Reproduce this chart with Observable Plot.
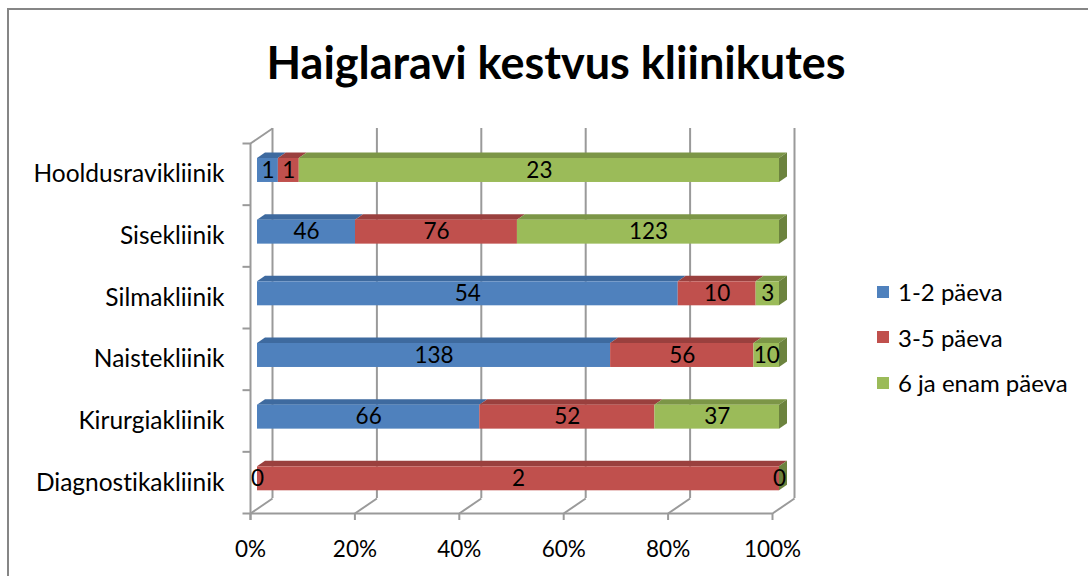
<!DOCTYPE html>
<html>
<head>
<meta charset="utf-8">
<script src="https://cdn.jsdelivr.net/npm/d3@7"></script>
<script src="https://cdn.jsdelivr.net/npm/@observablehq/plot@0.6"></script>
<style>
  html, body { margin: 0; padding: 0; background: #fff; overflow: hidden; }
  #wrap { position: relative; width: 1088px; height: 576px; overflow: hidden; font-family: Lato, "Open Sans", sans-serif; font-variant-ligatures: none; }
  #border { position: absolute; left: 7px; top: 8px; width: 2000px; height: 2000px; border: 2px solid #868686; box-sizing: border-box; }
  #title { position: absolute; left: 156px; width: 800px; top: 36px; text-align: center; font-weight: bold; font-size: 45px; line-height: 52px; color: #000; white-space: nowrap; }
  #chart { position: absolute; left: 0; top: 0; }
  #chart svg text { font-variant-ligatures: none; }
  #legend { position: absolute; left: 877px; top: 269px; font-size: 24px; color: #000; }
  .item { display: flex; align-items: center; height: 45.5px; white-space: nowrap; }
  .sw { width: 12px; height: 12px; margin-right: 9px; }
</style>
</head>
<body>
<div id="wrap">
  <div id="border"></div>
  <div id="chart"></div>
  <div id="title">Haiglaravi kestvus kliinikutes</div>
  <div id="legend"></div>
</div>
<script>
// ---- data ----
const categories = ["Hooldusravikliinik", "Sisekliinik", "Silmakliinik", "Naistekliinik", "Kirurgiakliinik", "Diagnostikakliinik"];
const seriesNames = ["1-2 päeva", "3-5 päeva", "6 ja enam päeva"];
const days12 = [1, 46, 54, 138, 66, 0];
const days35 = [1, 76, 10, 56, 52, 2];
const days6plus = [23, 123, 3, 10, 37, 0];
const xTicks = [0, 20, 40, 60, 80, 100];
const xTickLabels = ["0%", "20%", "40%", "60%", "80%", "100%"];

// ---- style ----
const colors = ["#4F81BD", "#C0504D", "#9BBB59"];
const topColors = ["#3E6A9F", "#9A403E", "#7C9647"];
const sideColor = "#6C833E";
const gridColor = "#9a9a9a";

const W = 1088, H = 576, mL = 250, mR = 316, mT = 143, mB = 63;
const pxX = 100 / (W - mL - mR);
const pxY = categories.length / (H - mT - mB);
const back = {dx: 22, dy: -15};
const bar = {dx: 7, depthX: 8, depthY: -5.5, top: 0.243, bottom: 0.632, label: 0.438};

const seriesValues = [days12, days35, days6plus];
const segs = [];
categories.forEach((cat, i) => {
  const total = seriesValues.reduce((s, arr) => s + arr[i], 0);
  let cum = 0;
  seriesValues.forEach((arr, s) => {
    const v = arr[i];
    const x1 = cum / total * 100;
    cum += v;
    const x2 = cum / total * 100;
    segs.push({cat, i, s, series: seriesNames[s], value: v, x1, x2});
  });
});

const topMarks = seriesNames.map((name, s) => {
  const pts = [];
  segs.filter(d => d.s === s && d.value > 0).forEach(d => {
    const key = d.cat + "|" + s;
    pts.push({key, y: d.i + bar.top, x1: d.x1, x2: d.x2});
    pts.push({key, y: d.i + bar.top + bar.depthY * pxY, x1: d.x1 + bar.depthX * pxX, x2: d.x2 + bar.depthX * pxX});
  });
  return Plot.areaX(pts, {x1: "x1", x2: "x2", y: "y", z: "key", fill: topColors[s], dx: bar.dx});
});

const sidePts = [];
categories.forEach((cat, i) => {
  sidePts.push({key: cat, x: 100, y1: i + bar.top, y2: i + bar.bottom});
  sidePts.push({key: cat, x: 100 + bar.depthX * pxX, y1: i + bar.top + bar.depthY * pxY, y2: i + bar.bottom + bar.depthY * pxY});
});

const diag = [{x1: 0, y1: 0, x2: back.dx * pxX, y2: back.dy * pxY}]
  .concat(xTicks.map(t => ({x1: t, y1: 6, x2: t + back.dx * pxX, y2: 6 + back.dy * pxY})));

const n = categories.length;
const chart = Plot.plot({
  width: W, height: H,
  marginLeft: mL, marginRight: mR, marginTop: mT, marginBottom: mB,
  x: {domain: [0, 100], axis: null},
  y: {domain: [0, n], reverse: true, axis: null},
  color: {domain: seriesNames, range: colors},
  style: {fontFamily: "Lato, 'Open Sans', sans-serif", fontSize: "22px", background: "transparent", color: "#000", overflow: "visible"},
  marks: [
    Plot.ruleX(xTicks, {x: d => d, y1: () => 0, y2: () => n, dx: back.dx, dy: back.dy, stroke: gridColor, strokeWidth: 2}),
    Plot.link(diag, {x1: "x1", y1: "y1", x2: "x2", y2: "y2", stroke: gridColor, strokeWidth: 2}),
    Plot.ruleY([n], {y: d => d, x1: () => 0, x2: () => 100, stroke: gridColor, strokeWidth: 2}),
    Plot.ruleX([0], {x: d => d, y1: () => 0, y2: () => n + 7 * pxY, stroke: gridColor, strokeWidth: 2}),
    Plot.ruleX(xTicks, {x: d => d, y1: () => n, y2: () => n + 7 * pxY, stroke: gridColor, strokeWidth: 2}),
    Plot.link(d3.range(n + 1), {x1: () => 0, x2: () => -8 * pxX, y1: d => d, y2: d => d, stroke: gridColor, strokeWidth: 2}),
    Plot.text(categories, {x: () => 0, y: (d, i) => i + 0.5, text: d => d, textAnchor: "end", dx: -26, fill: "#000", fontSize: 24.5}),
    Plot.text(xTicks, {x: d => d, y: () => n, dy: 36, text: (d, i) => xTickLabels[i], fill: "#000", fontSize: 22.5}),
    ...topMarks,
    Plot.areaY(sidePts, {x: "x", y1: "y1", y2: "y2", z: "key", fill: sideColor, dx: bar.dx}),
    Plot.rect(segs, {x1: "x1", x2: "x2", y1: d => d.i + bar.top, y2: d => d.i + bar.bottom, fill: "series", dx: bar.dx}),
    Plot.text(segs, {x: d => (d.x1 + d.x2) / 2, y: d => d.i + bar.label, text: d => String(d.value), dx: bar.dx, fill: "#000", fontSize: 22.5})
  ]
});
document.getElementById("chart").appendChild(chart);

const legend = document.getElementById("legend");
seriesNames.forEach((name, s) => {
  const item = document.createElement("div");
  item.className = "item";
  const sw = document.createElement("div");
  sw.className = "sw";
  sw.style.background = colors[s];
  const label = document.createElement("span");
  label.textContent = name;
  item.appendChild(sw);
  item.appendChild(label);
  legend.appendChild(item);
});
</script>
</body>
</html>
